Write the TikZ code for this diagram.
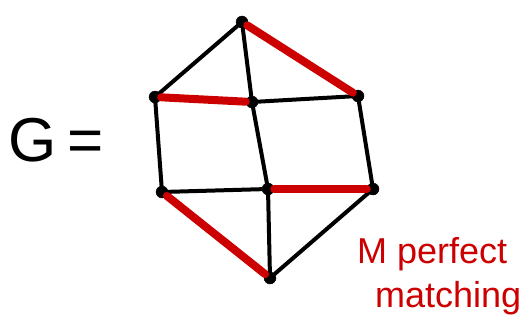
\documentclass[tikz,border=0pt]{standalone}
\usepackage{fontspec}
\setsansfont{Liberation Sans}
\usepackage{xcolor}
\usetikzlibrary{positioning}
\definecolor{mred}{RGB}{204,0,0}
\tikzset{
	vtx/.style={draw, circle, fill=black, inner sep=0pt, minimum size=12pt},
	edg/.style={line width=4pt, line cap=round},
	medg/.style={line width=8pt, line cap=round, mred},
	lbl/.style={font=\sffamily, inner sep=0pt},
}

\begin{document}
\begin{tikzpicture}[x=1pt, y=-1pt]
	\useasboundingbox (0,0) rectangle (522,330);
	\node[vtx] at (242,22) (t) {};
	\node[vtx] at (155,97) (ul) {};
	\node[vtx] at (252,102) (um) {};
	\node[vtx] at (358,96) (ur) {};
	\node[vtx] at (162,192) (ll) {};
	\node[vtx] at (268,189) (lm) {};
	\node[vtx] at (373,189) (lr) {};
	\node[vtx] at (270,278) (b) {};
	% black edges
	\draw[edg] (t) -- (ul);
	\draw[edg] (t) -- (um);
	\draw[edg] (um) -- (ur);
	\draw[edg] (ul) -- (ll);
	\draw[edg] (um) -- (lm);
	\draw[edg] (ur) -- (lr);
	\draw[edg] (ll) -- (lm);
	\draw[edg] (lm) -- (b);
	\draw[edg] (lr) -- (b);
	% matching M
	\draw[medg] (t) -- (ur);
	\draw[medg] (ul) -- (um);
	\draw[medg] (lm) -- (lr);
	\draw[medg] (ll) -- (b);
	\node[lbl, font=\sffamily\fontsize{62}{62}\selectfont] at (56,140) (g) {G\,=};
	\node[lbl, mred, align=left, anchor=west, font=\sffamily\fontsize{36}{44}\selectfont] at (357,276) (m) {M perfect\\\hspace*{18pt}matching};
\end{tikzpicture}
\end{document}
